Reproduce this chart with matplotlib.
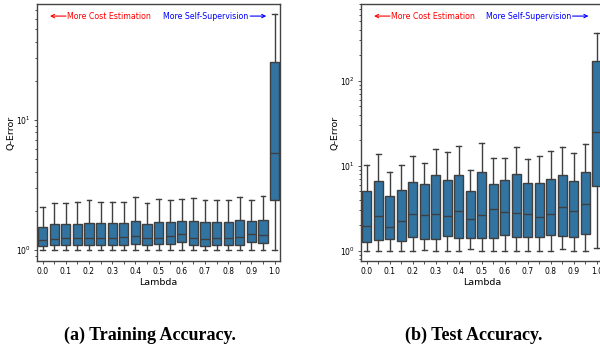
import matplotlib
matplotlib.use("Agg")
import matplotlib.pyplot as plt

lambdas = [0.0, 0.05, 0.1, 0.15, 0.2, 0.25, 0.3, 0.35, 0.4, 0.45, 0.5,
           0.55, 0.6, 0.65, 0.7, 0.75, 0.8, 0.85, 0.9, 0.95, 1.0]
tick_labels = ['0.0', '', '0.1', '', '0.2', '', '0.3', '', '0.4', '', '0.5',
               '', '0.6', '', '0.7', '', '0.8', '', '0.9', '', '1.0']

# training q-error per lambda
train_lo = [1.0] * 21
train_q1 = [1.07, 1.08, 1.08, 1.08, 1.08, 1.08, 1.08, 1.09, 1.10, 1.09, 1.10,
            1.10, 1.15, 1.08, 1.07, 1.08, 1.08, 1.09, 1.15, 1.12, 2.4]
train_med = [1.19, 1.21, 1.23, 1.23, 1.23, 1.23, 1.24, 1.25, 1.27, 1.24, 1.24,
             1.27, 1.32, 1.24, 1.21, 1.23, 1.23, 1.25, 1.32, 1.30, 5.6]
train_q3 = [1.49, 1.57, 1.57, 1.58, 1.62, 1.60, 1.60, 1.60, 1.68, 1.57, 1.64,
            1.63, 1.68, 1.66, 1.63, 1.63, 1.63, 1.69, 1.66, 1.71, 28]
train_hi = [2.13, 2.31, 2.31, 2.35, 2.40, 2.35, 2.35, 2.35, 2.53, 2.29, 2.45,
            2.40, 2.47, 2.51, 2.42, 2.40, 2.42, 2.57, 2.40, 2.60, 65]

# test q-error per lambda
test_lo = [1.0, 1.0, 1.0, 1.0, 1.0, 1.02, 1.0, 1.0, 1.0, 1.04, 1.0,
           1.0, 1.0, 1.0, 1.0, 1.0, 1.0, 1.04, 1.0, 1.0, 1.08]
test_q1 = [1.28, 1.33, 1.36, 1.31, 1.46, 1.38, 1.38, 1.51, 1.42, 1.40, 1.42,
           1.42, 1.53, 1.45, 1.45, 1.44, 1.54, 1.50, 1.44, 1.56, 5.8]
test_med = [1.97, 2.56, 1.90, 2.21, 2.68, 2.60, 2.68, 2.56, 2.93, 2.38, 2.60,
            3.12, 2.85, 2.75, 2.68, 2.47, 2.68, 3.23, 2.96, 3.51, 25]
test_q3 = [4.99, 6.66, 4.36, 5.22, 6.37, 6.03, 7.7, 6.84, 7.7, 4.99, 8.5,
           6.03, 6.72, 8.05, 6.25, 6.2, 6.97, 7.77, 6.54, 8.35, 170]
test_hi = [10.3, 13.8, 8.5, 10.3, 13.1, 10.8, 15.6, 14.4, 17.2, 8.8, 18.6,
           12.3, 12.3, 16.7, 12.0, 12.9, 15.0, 16.7, 14.1, 17.9, 361]

box_color = '#3274a1'
line_color = '#3f3f3f'


def draw(ax, lo, q1, med, q3, hi, ylim):
    stats = []
    for i in range(len(lambdas)):
        stats.append(dict(whislo=lo[i], q1=q1[i], med=med[i], q3=q3[i], whishi=hi[i]))
    ax.bxp(stats, positions=range(len(lambdas)), widths=0.8, patch_artist=True,
           showfliers=False,
           boxprops=dict(facecolor=box_color, edgecolor=line_color, linewidth=1.0),
           medianprops=dict(color=line_color, linewidth=1.0),
           whiskerprops=dict(color=line_color, linewidth=1.0),
           capprops=dict(color=line_color, linewidth=1.0))
    ax.set_yscale('log')
    ax.set_ylim(*ylim)
    ax.set_xlim(-0.5, len(lambdas) - 0.5)
    ax.set_xticks(range(len(lambdas)))
    ax.set_xticklabels(tick_labels)
    ax.tick_params(labelsize=5.5, length=2.5, width=0.6, color='#333333', pad=2)
    ax.tick_params(which='minor', length=1.5, width=0.5)
    ax.set_xlabel('Lambda', fontsize=6.8, labelpad=1)
    ax.set_ylabel('Q-Error', fontsize=6.8, labelpad=0)
    for s in ax.spines.values():
        s.set_color('#444444')
        s.set_linewidth(1.0)

    ax.annotate('', xy=(0.054, 0.953), xytext=(0.12, 0.953), xycoords='axes fraction',
                arrowprops=dict(arrowstyle='->', color='red', lw=0.8, mutation_scale=6,
                                shrinkA=0, shrinkB=0))
    ax.text(0.126, 0.953, 'More Cost Estimation', color='red', fontsize=5.7,
            ha='left', va='center', transform=ax.transAxes)
    ax.text(0.87, 0.953, 'More Self-Supervision', color='blue', fontsize=5.7,
            ha='right', va='center', transform=ax.transAxes)
    ax.annotate('', xy=(0.942, 0.953), xytext=(0.876, 0.953), xycoords='axes fraction',
                arrowprops=dict(arrowstyle='->', color='blue', lw=0.8, mutation_scale=6,
                                shrinkA=0, shrinkB=0))


fig = plt.figure(figsize=(6, 3.52), dpi=100)
ax1 = fig.add_axes([36.8 / 600, 91 / 352, 243.6 / 600, 257 / 352])
ax2 = fig.add_axes([361 / 600, 91 / 352, 241.5 / 600, 257 / 352])

draw(ax1, train_lo, train_q1, train_med, train_q3, train_hi, (0.82, 78))
draw(ax2, test_lo, test_q1, test_med, test_q3, test_hi, (0.757, 800))

fig.text(150 / 600, 1 - 335 / 352, '(a) Training Accuracy.', fontsize=13,
         fontweight='bold', family='Liberation Serif', ha='center', va='center')
fig.text(474 / 600, 1 - 335 / 352, '(b) Test Accuracy.', fontsize=13,
         fontweight='bold', family='Liberation Serif', ha='center', va='center')

fig.savefig('out.png', dpi=100)
